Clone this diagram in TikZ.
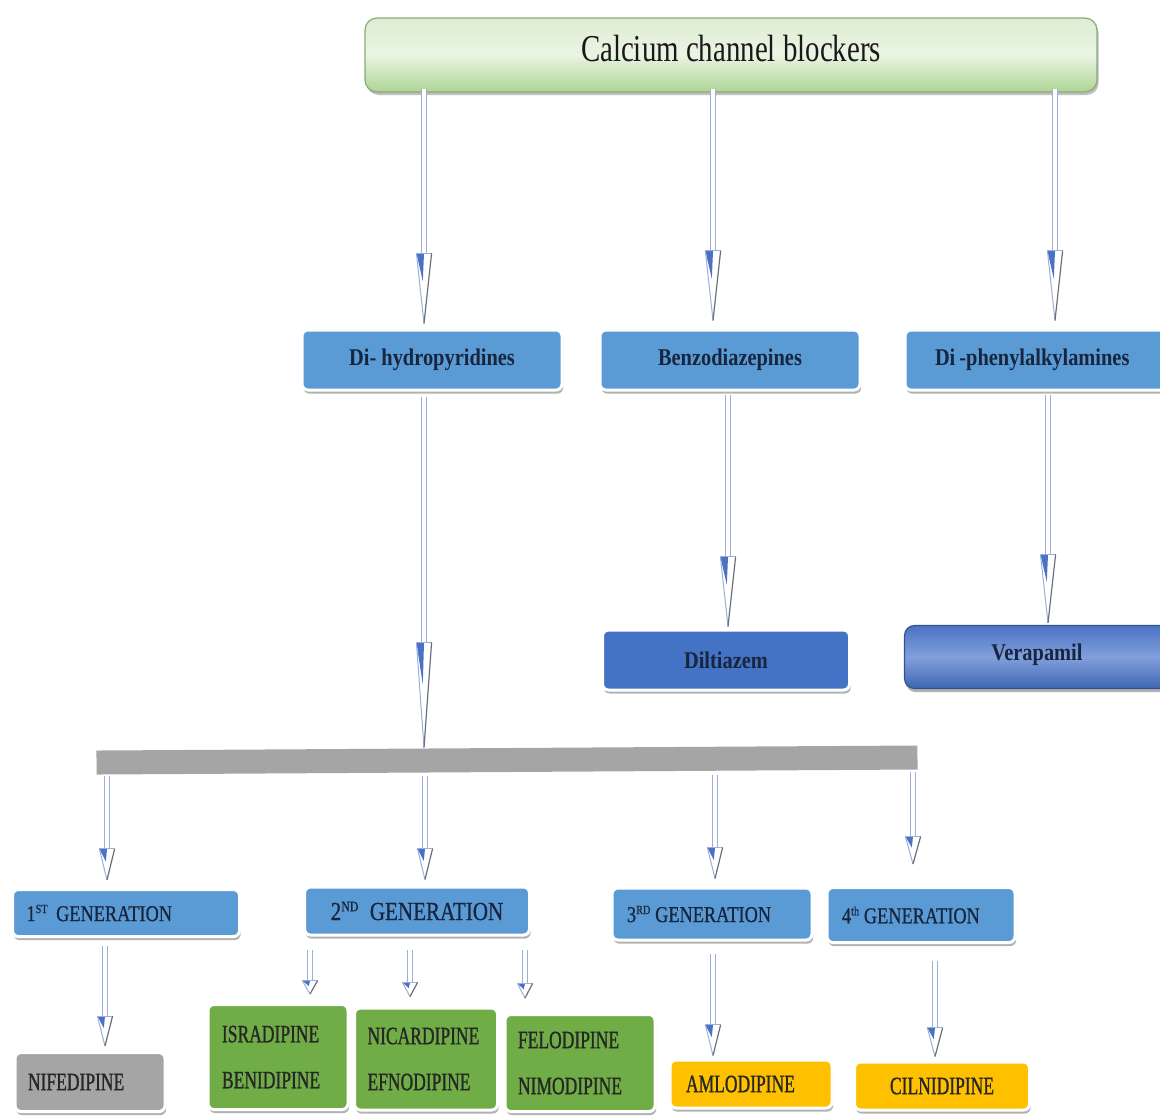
\documentclass[tikz,border=0pt]{standalone}
\usepackage{fontspec}
\setmainfont{Liberation Serif}
\newfontfamily\titlefont[FakeStretch=0.76]{Liberation Serif}
\newfontfamily\lvfont[FakeStretch=0.85]{Liberation Serif}
\newfontfamily\genfont[FakeStretch=0.81,FakeBold=0.7]{Liberation Serif}
\newfontfamily\drugfont[FakeStretch=0.7,FakeBold=1]{Liberation Serif}
\usetikzlibrary{shadows,decorations.markings,calc}
\definecolor{boxblue}{HTML}{5B9BD5}
\definecolor{dilblue}{HTML}{4472C4}
\definecolor{navy}{HTML}{18253F}
\definecolor{barg}{HTML}{A5A5A5}
\definecolor{drugg}{HTML}{70AD47}
\definecolor{drugo}{HTML}{FFC000}
\definecolor{shaftc}{HTML}{9EAFD6}
\definecolor{headblue}{HTML}{4A72C4}
\definecolor{headdark}{HTML}{6B6F7A}
\definecolor{gA}{HTML}{DDEDD3}
\definecolor{gB}{HTML}{ADD494}
\definecolor{gC}{HTML}{EAF4E3}
\definecolor{vA}{HTML}{4B73C3}
\definecolor{vB}{HTML}{3F66B4}
\definecolor{vC}{HTML}{819FDB}
\newcommand\connarrow{%
  \pgfmathsetmacro\cL{\pgfdecoratedpathlength}%
  \pgfmathsetmacro\cS{0.7*\cL}%
  \pgfmathsetmacro\cB{0.82*\cL}%
  \draw[draw=shaftc, line width=0.5pt, double=white, double distance=2pt] (0pt,0pt) -- (\cS pt,0pt);
  \fill[white] (\cS pt,-3.8pt) -- (\cS pt,3.8pt) -- (\cL pt,0pt) -- cycle;
  \fill[headblue] (\cS pt,-3.8pt) -- (\cS pt,0pt) -- (\cB pt,-0.6pt) -- cycle;
  \draw[shaftc, line width=0.5pt] (\cS pt,-3.8pt) -- (\cS pt,3.8pt);
  \draw[shaftc, line width=0.5pt] (\cS pt,-3.8pt) -- (\cL pt,0pt);
  \draw[headdark, line width=0.6pt] (\cS pt,3.8pt) -- (\cL pt,0pt);
}
\newcommand\supx[1]{\textsuperscript{\scalebox{0.8}{#1}}}
\begin{document}
\begin{tikzpicture}[x=0.5pt,y=-0.5pt,
  conn/.style={decorate, decoration={markings, mark=at position 0 with {\connarrow}}},
  box/.style={draw=white, line width=1.5pt, rounded corners=3pt, inner sep=0pt,
    drop shadow={shadow xshift=0.6pt, shadow yshift=-1.8pt, fill=black, opacity=0.3}},
  lvbox/.style={box, fill=boxblue, text=navy, minimum height=30pt,
    font={\lvfont\fontsize{12}{14}\selectfont\bfseries}},
  genbox/.style={box, fill=boxblue, text=navy, align=left,
    font={\genfont\fontsize{11.3}{13}\selectfont}},
  drugbox/.style={box, text=black!85, align=left,
    font={\drugfont\fontsize{12.5}{23}\selectfont}}]
\useasboundingbox (0,0) rectangle (1160,1116);
\fill[white] (0,0) rectangle (1160,1116);

% top
\node[draw=gB!80!black, line width=0.6pt, rounded corners=6pt, top color=gA, bottom color=gB, middle color=gC,
  minimum width=366pt, minimum height=37pt, text=black!90,
  drop shadow={shadow xshift=0.8pt, shadow yshift=-1.5pt, fill=black, opacity=0.25},
  font={\titlefont\fontsize{19}{22}\selectfont}] (top) at (731,55) {\raisebox{7pt}{Calcium channel blockers}};

% level 2
\node[lvbox, minimum width=130pt] (dhp) at (432,360) {Di- hydropyridines};
\node[lvbox, minimum width=130pt] (bzd) at (730,360) {Benzodiazepines};
\node[lvbox, text width=105pt, align=left, inner xsep=15pt] (pak) at (1040,360) {Di\,-phenylalkylamines};

\node[box, fill=dilblue, text=navy, minimum width=123.5pt, minimum height=30pt,
  font={\lvfont\fontsize{12}{14}\selectfont\bfseries}] (dil) at (726,660) {Diltiazem};
\node[draw=vB!80!black, line width=0.6pt, rounded corners=5pt, top color=vA, bottom color=vB, middle color=vC,
  text=navy, minimum width=132.5pt, minimum height=31.5pt, inner sep=0pt,
  drop shadow={shadow xshift=0.6pt, shadow yshift=-1.8pt, fill=black, opacity=0.3},
  font={\lvfont\fontsize{12}{14}\selectfont\bfseries}] (ver) at (1037,657) {\raisebox{5pt}{Verapamil}};

% bar
\node[fill=barg, minimum width=410.5pt, minimum height=12pt, inner sep=0pt, rotate=0.35] (bar) at (507,760) {};

% generations
\node[genbox, text width=99.5pt, inner xsep=7pt, minimum height=23.5pt] (g1) at (126,913) {1\supx{ST}\ GENERATION};
\node[genbox, align=center, minimum width=112.5pt, minimum height=24pt,
  font={\genfont\fontsize{13}{15}\selectfont}] (g2) at (417,911) {2\supx{ND}\ \ GENERATION};
\node[genbox, text width=85pt, inner xsep=7.5pt, minimum height=26pt] (g3) at (712,914) {3\supx{RD}\,GENERATION};
\node[genbox, text width=79pt, inner xsep=7.5pt, minimum height=27.5pt] (g4) at (921,915) {4\supx{th}\,GENERATION};

% drugs
\node[drugbox, fill=barg, text width=62pt, inner xsep=6.5pt, minimum height=29.5pt] (nif) at (90,1082) {NIFEDIPINE};
\node[drugbox, fill=drugg, text width=56pt, inner xsep=7pt, minimum height=52.5pt] (isr) at (278,1057) {ISRADIPINE\\BENIDIPINE};
\node[drugbox, fill=drugg, text width=58.5pt, inner xsep=6.5pt, minimum height=51pt] (nic) at (426,1059) {NICARDIPINE\\EFNODIPINE};
\node[drugbox, fill=drugg, text width=62pt, inner xsep=6.5pt, minimum height=48.5pt] (fel) at (580,1063) {FELODIPINE\\NIMODIPINE};
\node[drugbox, fill=drugo, text width=65pt, inner xsep=8pt, minimum height=24pt] (aml) at (751,1084) {AMLODIPINE};
\node[drugbox, fill=drugo, align=center, minimum width=87.5pt, minimum height=24pt] (cil) at (942,1086) {CILNIDIPINE};

% connectors
\path[conn] ($(dhp.north |- top.south)+(-8,-4)$) -- ($(dhp.north)+(-8,-5)$);
\path[conn] ($(bzd.north |- top.south)+(-17,-4)$) -- ($(bzd.north)+(-17,-8)$);
\path[conn] ($(pak.north |- top.south)+(15,-4)$) -- ($(pak.north)+(15,-8)$);
\path[conn] ($(dhp.south)+(-8,5)$) -- ($(dhp.south |- bar.north)+(-8,0)$);
\path[conn] ($(dil.north |- bzd.south)+(2,3)$) -- ($(dil.north)+(2,-2)$);
\path[conn] ($(ver.north |- pak.south)+(11,3)$) -- ($(ver.north)+(11,-2)$);
\path[conn] ($(g1.north |- bar.south)+(-19,4)$) -- ($(g1.north)+(-19,-8)$);
\path[conn] ($(g2.north |- bar.south)+(8,4)$) -- ($(g2.north)+(8,-6)$);
\path[conn] ($(g3.north |- bar.south)+(3,3)$) -- ($(g3.north)+(3,-8)$);
\path[conn] ($(g4.north |- bar.south)+(-8,0)$) -- ($(g4.north)+(-8,-22)$);
\path[conn] ($(nif.north |- g1.south)+(15,8)$) -- ($(nif.north)+(15,-5)$);
\path[conn] ($(isr.north |- g2.south)+(32,13)$) -- ($(isr.north)+(32,-9)$);
\path[conn] ($(nic.north |- g2.south)+(-16,13)$) -- ($(nic.north)+(-16,-10)$);
\path[conn] ($(fel.north |- g2.south)+(-55,13)$) -- ($(fel.north)+(-55,-15)$);
\path[conn] ($(aml.north |- g3.south)+(-38,12)$) -- ($(aml.north)+(-38,-3)$);
\path[conn] ($(cil.north |- g4.south)+(-7,17)$) -- ($(cil.north)+(-7,-4)$);
\end{tikzpicture}
\end{document}
